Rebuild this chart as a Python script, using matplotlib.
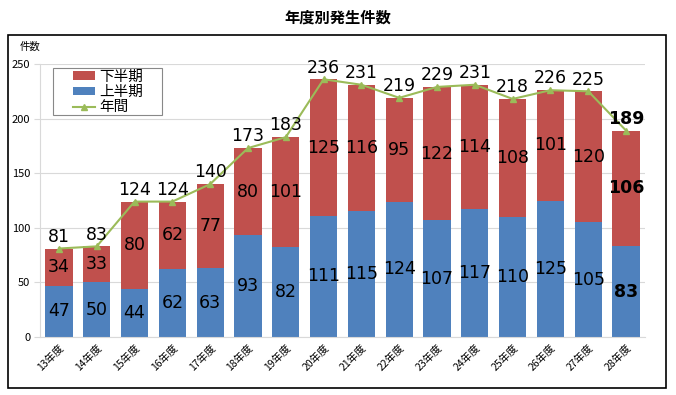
from matplotlib import pyplot as plt
from matplotlib.patches import Rectangle
import numpy as np

plt.rcParams['font.family'] = ['Noto Sans CJK JP', 'DejaVu Sans']

COLOR_UPPER = "#C0504D"
COLOR_LOWER = "#4F81BD"
COLOR_LINE = "#9BBB59"

years = ["13年度", "14年度", "15年度", "16年度", "17年度", "18年度", "19年度", "20年度",
         "21年度", "22年度", "23年度", "24年度", "25年度", "26年度", "27年度", "28年度"]
first_half = [47, 50, 44, 62, 63, 93, 82, 111, 115, 124, 107, 117, 110, 125, 105, 83]
second_half = [34, 33, 80, 62, 77, 80, 101, 125, 116, 95, 122, 114, 108, 101, 120, 106]
totals = [81, 83, 124, 124, 140, 173, 183, 236, 231, 219, 229, 231, 218, 226, 225, 189]

W, H = 676, 395
fig = plt.figure(figsize=(W / 100, H / 100), dpi=100)
ax = fig.add_axes([40 / W, 1 - 337 / H, 605 / W, 273 / H])


def fig_rect(x0, y0, x1, y1, **kw):
    """rectangle given in pixel coords from the top-left corner"""
    return Rectangle((x0 / W, 1 - y1 / H), (x1 - x0) / W, (y1 - y0) / H,
                     transform=fig.transFigure, **kw)


# outer frame like the spreadsheet chart area
fig.patches.append(fig_rect(8, 35, 666, 388, fill=False, edgecolor="black", lw=1.2))
fig.text(338 / W, 1 - 18 / H, "年度別発生件数", ha="center", va="center",
         fontsize=11, fontweight="bold")

x = np.arange(len(years))
w = 0.72
b_low = ax.bar(x, first_half, w, color=COLOR_LOWER, label="上半期", zorder=2)
b_up = ax.bar(x, second_half, w, bottom=first_half, color=COLOR_UPPER, label="下半期", zorder=2)
ln, = ax.plot(x, totals, "-^", color=COLOR_LINE, lw=1.5, ms=4, label="年間", zorder=3)

num_font = dict(family="DejaVu Sans", fontsize=12.5, zorder=4)
last = len(years) - 1
for i in x:
    weight = "bold" if i == last else "normal"
    ax.text(i, first_half[i] / 2, str(first_half[i]), ha="center", va="center",
            fontweight=weight, **num_font)
    ax.text(i, first_half[i] + second_half[i] / 2, str(second_half[i]), ha="center",
            va="center", fontweight=weight, **num_font)
    ax.annotate(str(totals[i]), (i, totals[i]), xytext=(0, 2), textcoords="offset points",
                ha="center", va="bottom", fontweight=weight, **num_font)

ax.set_xlim(-0.5, len(years) - 0.5)
ax.set_ylim(0, 250)
ax.set_yticks(range(0, 251, 50))
ax.yaxis.grid(True, color="#D9D9D9", lw=0.8, zorder=0)
ax.set_axisbelow(True)
for s in ["top", "right"]:
    ax.spines[s].set_visible(False)
for s in ["left", "bottom"]:
    ax.spines[s].set_color("#D9D9D9")
ax.set_xticks(x)
ax.set_xticklabels(years, rotation=45, ha="right", rotation_mode="anchor", fontsize=7.5)
ax.tick_params(axis="x", length=0, pad=4)
ax.tick_params(axis="y", length=4, color="#D9D9D9", labelsize=8, pad=3)
fig.text(30 / W, 1 - 47 / H, "件数", ha="center", va="center", fontsize=7.5)

# legend box drawn separately to get the wide padding
fig.patches.append(fig_rect(53, 68, 162, 115, facecolor="white", edgecolor="#888888",
                            lw=0.8, zorder=5))
leg = fig.legend([b_up, b_low, ln], ["下半期", "上半期", "年間"],
                 loc="upper left", bbox_to_anchor=(73 / W, 1 - 70 / H),
                 bbox_transform=fig.transFigure, fontsize=10.5, frameon=False,
                 borderpad=0, borderaxespad=0, labelspacing=0.08, handlelength=1.5,
                 handleheight=0.55, handletextpad=0.3)
leg.set_zorder(6)

fig.savefig("out.png", dpi=100)
